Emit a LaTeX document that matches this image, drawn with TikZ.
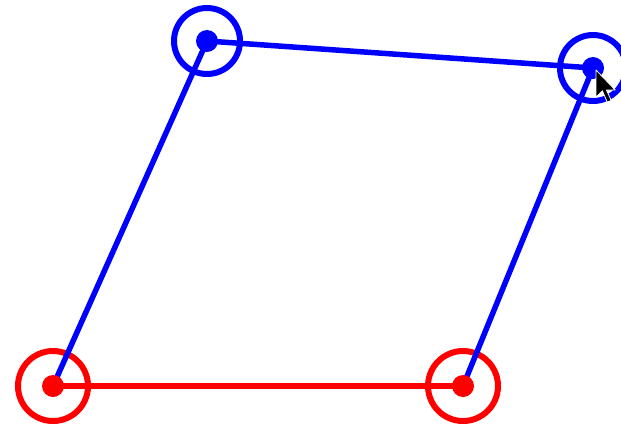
\documentclass[tikz,border=0pt]{standalone}
\begin{document}
\begin{tikzpicture}[x=1pt,y=-1pt,
  ring/.style={line width=6pt},
  bar/.style={line width=5.5pt},
  dot/.style={circle,inner sep=0pt,minimum size=22pt}]
\useasboundingbox (0,0) rectangle (621,429);
\fill[white] (0,0) rectangle (621,429);
\coordinate (tl) at (207,41);
\coordinate (tr) at (593,68);
\coordinate (bl) at (53,386);
\coordinate (br) at (463,386);
% rings
\draw[ring,blue] (tl) circle (33);
\draw[ring,blue] (tr) circle (33);
\draw[ring,red] (bl) circle (35);
\draw[ring,red] (br) circle (35);
% connectors
\draw[bar,red] (bl) -- (br);
\draw[bar,blue] (tl) -- (tr);
\draw[bar,blue] (tl) -- (bl);
\draw[bar,blue] (tr) -- (br);
% dots
\node[dot,fill=blue] (ntl) at (tl) {};
\node[dot,fill=blue] (ntr) at (tr) {};
\node[dot,fill=red] (nbl) at (bl) {};
\node[dot,fill=red] (nbr) at (br) {};
% mouse cursor
\begin{scope}[shift={(596,70)},scale=1.6]
\draw[fill=black,draw=white,line width=0.8pt,line join=round]
  (0,0) -- (0,17) -- (4,13) -- (7,20) -- (9.5,19) -- (6.5,12.5) -- (12,12.5) -- cycle;
\end{scope}
\end{tikzpicture}
\end{document}
